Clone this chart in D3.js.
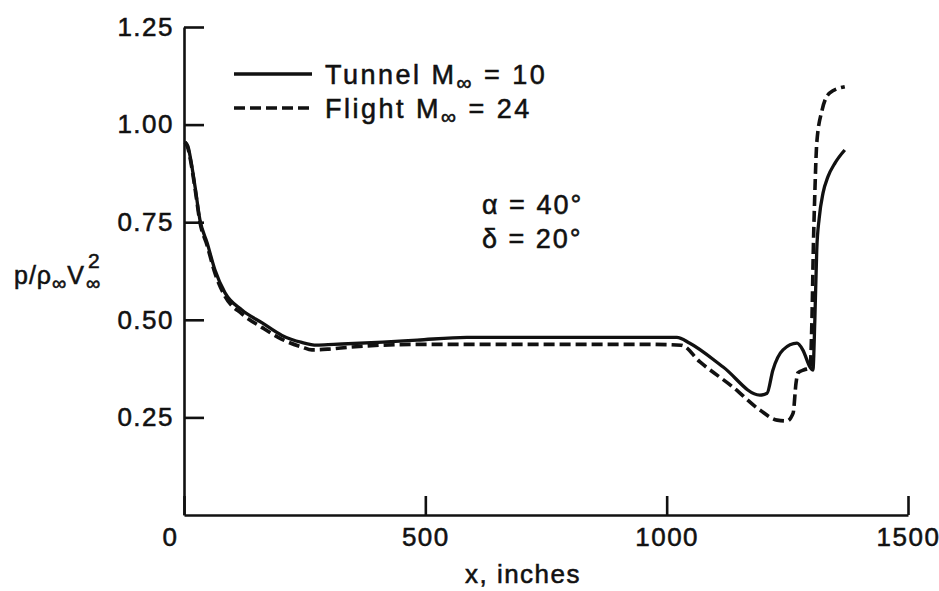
<!DOCTYPE html>
<html>
<head>
<meta charset="utf-8">
<script src="https://cdn.jsdelivr.net/npm/d3@7"></script>
<style>
  html, body { margin: 0; padding: 0; background: #fff; }
  svg { display: block; }
  text { font-family: "Liberation Sans", Arial, Helvetica, sans-serif; fill: #111; }
</style>
</head>
<body>
<svg id="chart" width="939" height="591"></svg>
<script>
// Surface pressure p/ρ∞V∞² along the body, wind tunnel vs. flight
const tunnelX = [2, 8, 14, 23, 33, 48, 64, 85, 120, 162, 203, 244, 275, 310, 412, 483, 586, 800, 1021, 1048, 1117, 1193, 1208, 1220, 1241, 1270, 1282, 1297, 1303, 1307, 1311, 1316, 1324, 1334, 1349, 1369];
const tunnelY = [0.955, 0.945, 0.91, 0.84, 0.756, 0.697, 0.628, 0.569, 0.525, 0.492, 0.46, 0.442, 0.435, 0.437, 0.443, 0.448, 0.455, 0.455, 0.455, 0.44, 0.379, 0.307, 0.312, 0.371, 0.423, 0.44, 0.423, 0.379, 0.371, 0.5, 0.68, 0.76, 0.825, 0.866, 0.902, 0.935];

const flightX = [2, 8, 14, 23, 33, 48, 64, 85, 120, 162, 203, 245, 265, 300, 344, 483, 620, 827, 965, 1030, 1069, 1137, 1193, 1229, 1249, 1262, 1268, 1272, 1285, 1297, 1301, 1304, 1307, 1311, 1322, 1338, 1369];
const flightY = [0.955, 0.94, 0.905, 0.835, 0.75, 0.69, 0.62, 0.56, 0.515, 0.48, 0.45, 0.43, 0.423, 0.425, 0.43, 0.437, 0.437, 0.437, 0.437, 0.435, 0.392, 0.328, 0.269, 0.243, 0.241, 0.261, 0.338, 0.364, 0.372, 0.377, 0.5, 0.69, 0.825, 0.953, 1.037, 1.081, 1.097];

const xTicks = [0, 500, 1000, 1500];
const yTicks = [0.25, 0.50, 0.75, 1.00, 1.25];
const legendLabels = [["Tunnel M", "∞", " = 10"], ["Flight M", "∞", " = 24"]];
const conditionLabels = ["α = 40°", "δ = 20°"];

const svg = d3.select("#chart");
const FS = 26, LS = 1.5, INK = 0.55;

const x = d3.scaleLinear().domain([0, 1500]).range([184, 908]);
const y = d3.scaleLinear().domain([0, 1.25]).range([515, 27]);

// axes
const yAxis = d3.axisLeft(y).tickValues(yTicks).tickFormat(d3.format(".2f"))
  .tickSizeInner(-20).tickSizeOuter(0).tickPadding(10);
const xAxis = d3.axisBottom(x).tickValues(xTicks).tickFormat(d3.format("d"))
  .tickSizeInner(-19).tickSizeOuter(0).tickPadding(13);

const gy = svg.append("g").attr("transform", `translate(${x(0)},0)`).call(yAxis);
const gx = svg.append("g").attr("transform", `translate(0,${y(0)})`).call(xAxis);

[gx, gy].forEach(g => {
  g.select(".domain").attr("stroke", "#111").attr("stroke-width", 2.6);
  g.selectAll(".tick line").attr("stroke", "#111").attr("stroke-width", 2.6);
  g.selectAll(".tick text")
    .attr("font-family", null).attr("font-size", FS)
    .attr("letter-spacing", LS).attr("fill", "#111")
    .attr("stroke", "#111").attr("stroke-width", INK);
});
gx.selectAll(".tick text").filter(d => d === 0).attr("dx", -14);

// curves
const line = d3.line()
  .x(d => x(d[0])).y(d => y(d[1]))
  .curve(d3.curveMonotoneX);

const tunnel = tunnelX.map((v, i) => [v, tunnelY[i]]);
const flight = flightX.map((v, i) => [v, flightY[i]]);

svg.append("path").datum(flight)
  .attr("d", line).attr("fill", "none")
  .attr("stroke", "#111").attr("stroke-width", 3.6)
  .attr("stroke-dasharray", "11,5");

svg.append("path").datum(tunnel)
  .attr("d", line).attr("fill", "none")
  .attr("stroke", "#111").attr("stroke-width", 3.3)
  .attr("stroke-linejoin", "round");

// legend
const legend = svg.append("g");
legendLabels.forEach((parts, i) => {
  const ly = 74 + i * 34;
  legend.append("line")
    .attr("x1", 234).attr("x2", 312).attr("y1", ly).attr("y2", ly)
    .attr("stroke", "#111").attr("stroke-width", 3.3)
    .attr("stroke-dasharray", i === 0 ? null : "11,5");
  const t = legend.append("text")
    .attr("x", 325).attr("y", ly + 10)
    .attr("font-size", 27).attr("letter-spacing", 2.5)
    .attr("stroke", "#111").attr("stroke-width", INK);
  t.append("tspan").text(parts[0]);
  t.append("tspan").attr("font-size", 21).attr("dy", 6).text(parts[1]);
  t.append("tspan").attr("dy", -6).text(parts[2]);
});

// flow conditions
conditionLabels.forEach((s, i) => {
  svg.append("text")
    .attr("x", 482).attr("y", 214 + i * 34)
    .attr("font-size", 27).attr("letter-spacing", 2)
    .attr("stroke", "#111").attr("stroke-width", INK)
    .text(s);
});

// axis titles
svg.append("text")
  .attr("x", 523).attr("y", 583)
  .attr("text-anchor", "middle")
  .attr("font-size", FS).attr("letter-spacing", LS)
  .attr("stroke", "#111").attr("stroke-width", INK)
  .text("x, inches");

const yl = svg.append("text")
  .attr("x", 14).attr("y", 284)
  .attr("font-size", 25).attr("letter-spacing", 1)
  .attr("stroke", "#111").attr("stroke-width", INK);
yl.append("tspan").text("p/ρ");
yl.append("tspan").attr("font-size", 20).attr("dy", 6).text("∞");
yl.append("tspan").attr("dy", -6).text("V");
const bb = yl.node().getBBox();
const endX = bb.x + bb.width + 1;
svg.append("text")
  .attr("x", endX).attr("y", 290)
  .attr("font-size", 20)
  .attr("stroke", "#111").attr("stroke-width", INK)
  .text("∞");
svg.append("text")
  .attr("x", endX + 2).attr("y", 268)
  .attr("font-size", 21)
  .attr("stroke", "#111").attr("stroke-width", INK)
  .text("2");
</script>
</body>
</html>
